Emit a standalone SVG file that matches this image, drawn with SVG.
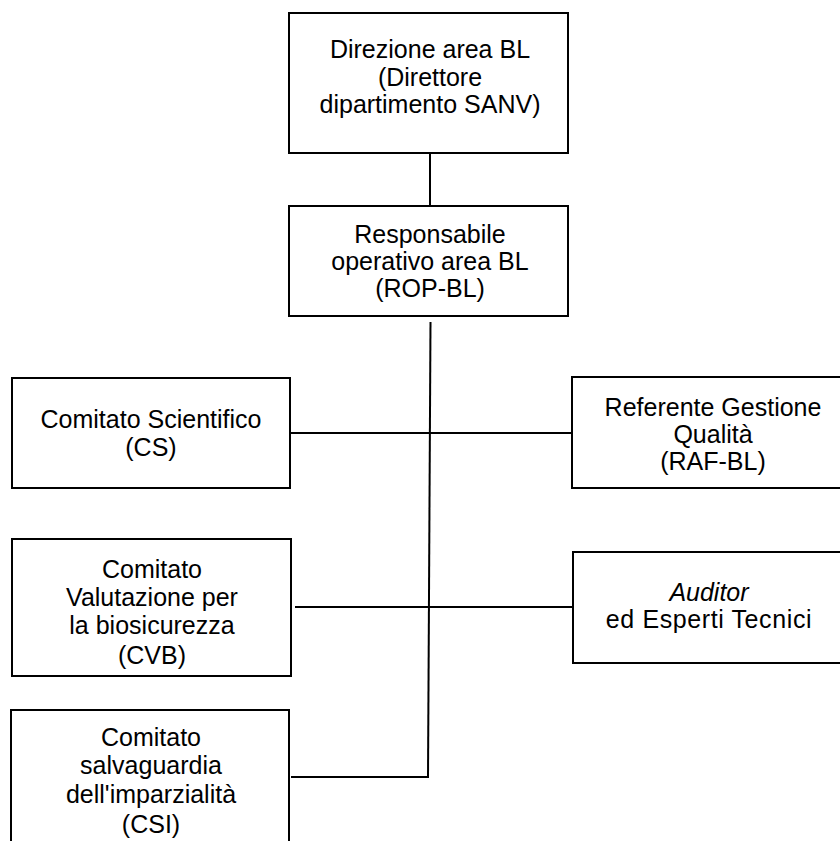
<svg xmlns="http://www.w3.org/2000/svg" width="840" height="841" viewBox="0 0 840 841">
<style>
.box{fill:#fff;stroke:#000;stroke-width:2}
.t{font-family:"Liberation Sans",Arial,sans-serif;font-size:25px;fill:#000;text-anchor:middle}
.c{stroke:#000;stroke-width:2;fill:none}
</style>
<rect width="840" height="841" fill="#fff"/>
<g id="connectors">
<line class="c" x1="430" y1="153" x2="430" y2="206"/>
<line class="c" x1="430.5" y1="322" x2="428" y2="777"/>
<line class="c" x1="290" y1="433" x2="572" y2="433"/>
<line class="c" x1="295" y1="607" x2="573" y2="607"/>
<line class="c" x1="291" y1="777" x2="429" y2="777"/>
</g>
<g id="direzione">
<rect class="box" x="289" y="13" width="279" height="140"/>
<text class="t" x="430" y="58">Direzione area BL</text>
<text class="t" x="430" y="86">(Direttore</text>
<text class="t" x="430" y="113">dipartimento SANV)</text>
</g>
<g id="rop">
<rect class="box" x="289" y="206" width="279" height="110"/>
<text class="t" x="430" y="243">Responsabile</text>
<text class="t" x="430" y="270">operativo area BL</text>
<text class="t" x="430" y="297">(ROP-BL)</text>
</g>
<g id="cs">
<rect class="box" x="12" y="378" width="278" height="110"/>
<text class="t" x="151" y="428">Comitato Scientifico</text>
<text class="t" x="151" y="456">(CS)</text>
</g>
<g id="raf">
<rect class="box" x="572" y="377" width="280" height="111"/>
<text class="t" x="713" y="416">Referente Gestione</text>
<text class="t" x="713" y="443">Qualità</text>
<text class="t" x="713" y="470">(RAF-BL)</text>
</g>
<g id="cvb">
<rect class="box" x="12" y="539" width="279" height="137"/>
<text class="t" x="152" y="578">Comitato</text>
<text class="t" x="152" y="606">Valutazione per</text>
<text class="t" x="152" y="634">la biosicurezza</text>
<text class="t" x="152" y="664">(CVB)</text>
</g>
<g id="auditor">
<rect class="box" x="573" y="552" width="280" height="111"/>
<text class="t" x="709" y="601" font-style="italic">Auditor</text>
<text class="t" x="709" y="628" letter-spacing="0.6">ed Esperti Tecnici</text>
</g>
<g id="csi">
<rect class="box" x="11" y="710" width="278" height="150"/>
<text class="t" x="151" y="746">Comitato</text>
<text class="t" x="151" y="774">salvaguardia</text>
<text class="t" x="151" y="803">dell'imparzialità</text>
<text class="t" x="151" y="833">(CSI)</text>
</g>
</svg>
